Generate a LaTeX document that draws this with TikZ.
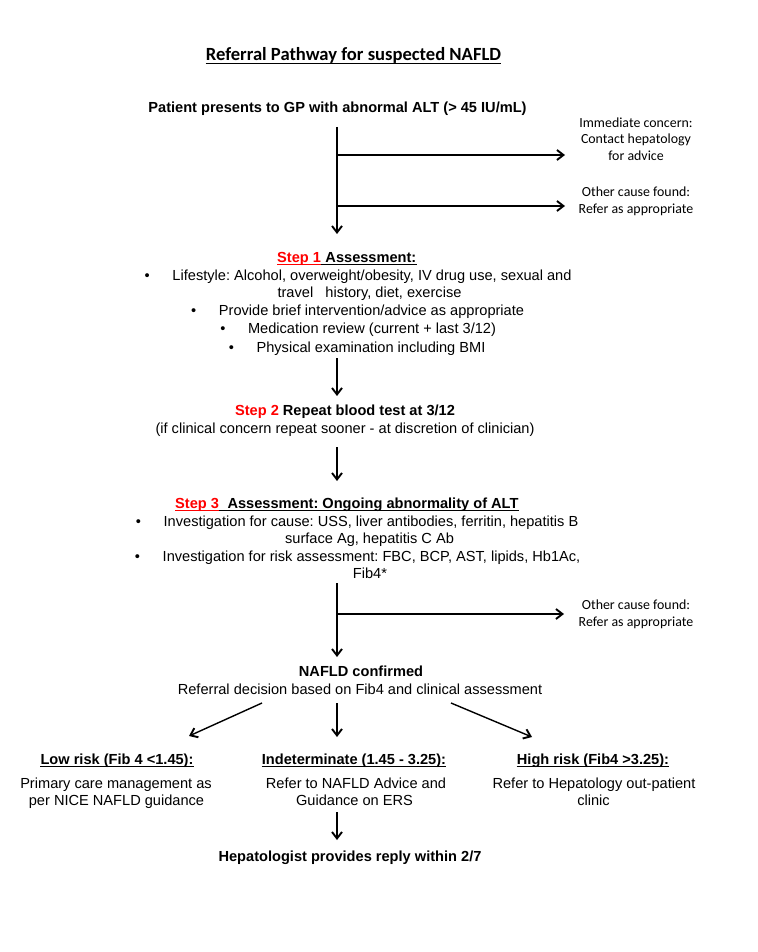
\documentclass[tikz,border=0pt]{standalone}
\usepackage{fontspec}
\setmainfont{Liberation Sans}
\newfontfamily\calib{Carlito}
\usetikzlibrary{arrows.meta}
\frenchspacing
\begin{document}
\begin{tikzpicture}[x=1pt,y=-1pt,
  txt/.style={inner sep=0pt, anchor=base, font=\fontsize{14.6}{17}\selectfont},
  btxt/.style={inner sep=0pt, anchor=base, font=\fontsize{14.6}{17}\selectfont\bfseries},
  note/.style={inner sep=0pt, anchor=base, font=\calib\fontsize{13.9}{17}\selectfont},
  titlefont/.style={inner sep=0pt, anchor=base, font=\calib\bfseries\fontsize{18.6}{22}\selectfont},
  conn/.style={line width=1.4pt, -{Straight Barb[length=6.5pt,width=10pt,line width=1.9pt]}},
  ul/.style={line width=1pt},
  bul/.style={inner sep=0pt, anchor=base, font=\fontsize{14.6}{17}\selectfont}]

\useasboundingbox[fill=white] (0,0) rectangle (757,952);

% title
\node[titlefont] (title) at (353.5,61) {Referral Pathway for suspected NAFLD};
\draw[ul] ([yshift=-2.5pt]title.base west) -- ([yshift=-2.5pt]title.base east);

% start
\node[btxt] (patient) at (337.5,113) {Patient presents to GP with abnormal ALT (> 45 IU/mL)};

% side notes top
\node[note] (n1a) at (636,127.5) {Immediate concern:};
\node[note] (n1b) at (636,144) {Contact hepatology};
\node[note] (n1c) at (636,160.5) {for advice};
\node[note] (n2a) at (636,196.5) {Other cause found:};
\node[note] (n2b) at (636,213.5) {Refer as appropriate};

\coordinate (v1s) at (337,127);
\coordinate (v1e) at (337,234);
\coordinate (j1) at (337,155);
\coordinate (j2) at (337,206);
\coordinate (a1) at (565,155);
\coordinate (a2) at (565,206);
\draw[conn] (v1s) -- (v1e);
\draw[conn] (j1) -- (a1);
\draw[conn] (j2) -- (a2);

% step 1
\node[btxt, text=red, anchor=base west] (s1a) at (277,262) {Step 1};
\node[btxt, anchor=base west] (s1b) at ([xshift=4.06pt]s1a.base east) {Assessment:};
\draw[ul, red] ([yshift=-2.5pt]s1a.base west) -- ([yshift=-2.5pt]s1a.base east);
\draw[ul] ([yshift=-2.5pt]s1a.base east) -- ([yshift=-2.5pt]s1b.base east);

\node[txt] (l1) at (372,280) {Lifestyle: Alcohol, overweight/obesity, IV drug use, sexual and};
\node[txt] (l2) at (369.5,297) {travel\ \ \ history, diet, exercise};
\node[txt] (l3) at (371.5,315) {Provide brief intervention/advice as appropriate};
\node[txt] (l4) at (372,333) {Medication review (current + last 3/12)};
\node[txt] (l5) at (371,352) {Physical examination including BMI};
\node[bul] (b1) at ([xshift=-25pt]l1.base west) {•};
\node[bul] (b3) at ([xshift=-25pt]l3.base west) {•};
\node[bul] (b4) at ([xshift=-25pt]l4.base west) {•};
\node[bul] (b5) at ([xshift=-25pt]l5.base west) {•};

\coordinate (v2s) at (337,358);
\coordinate (v2e) at (337,396);
\draw[conn] (v2s) -- (v2e);

% step 2
\node[btxt] (s2a) at (345,415) {\textcolor{red}{Step 2} Repeat blood test at 3/12};
\node[txt] (s2b) at (345,433) {(if clinical concern repeat sooner - at discretion of clinician)};

\coordinate (v3s) at (337,447);
\coordinate (v3e) at (337,481);
\draw[conn] (v3s) -- (v3e);

% step 3
\node[btxt, text=red, anchor=base west] (s3a) at (175,508) {Step 3};
\node[btxt, anchor=base west] (s3b) at ([xshift=8.12pt]s3a.base east) {Assessment: Ongoing abnormality of ALT};
\draw[ul, red] ([yshift=-2.5pt]s3a.base west) -- ([yshift=-2.5pt]s3a.base east);
\draw[ul] ([yshift=-2.5pt]s3a.base east) -- ([yshift=-2.5pt]s3b.base east);

\node[txt] (m1) at (371,526) {Investigation for cause: USS, liver antibodies, ferritin, hepatitis B};
\node[txt] (m2) at (369.5,543.5) {surface Ag, hepatitis C Ab};
\node[txt] (m3) at (371.5,561) {Investigation for risk assessment: FBC, BCP, AST, lipids, Hb1Ac,};
\node[txt] (m4) at (370,578) {Fib4*};
\node[bul] (c1) at ([xshift=-25pt]m1.base west) {•};
\node[bul] (c3) at ([xshift=-25pt]m3.base west) {•};

\coordinate (v4s) at (337,583);
\coordinate (v4e) at (337,657);
\coordinate (j3) at (337,614);
\coordinate (a3) at (564,614);
\draw[conn] (v4s) -- (v4e);
\draw[conn] (j3) -- (a3);
\node[note] (n3a) at (636,609.5) {Other cause found:};
\node[note] (n3b) at (636,626.5) {Refer as appropriate};

% NAFLD confirmed
\node[btxt] (naf) at (361,676) {NAFLD confirmed};
\node[txt] (refd) at (360,694) {Referral decision based on Fib4 and clinical assessment};

\coordinate (d1s) at (262,703);
\coordinate (d1e) at (189,736);
\coordinate (d2s) at (337,703);
\coordinate (d2e) at (337,737);
\coordinate (d3s) at (451,703);
\coordinate (d3e) at (532,737);
\draw[conn] (d1s) -- (d1e);
\draw[conn] (d2s) -- (d2e);
\draw[conn] (d3s) -- (d3e);

% outcomes
\node[btxt] (low) at (117,764) {Low risk (Fib 4 <1.45):};
\node[btxt] (ind) at (354,764) {Indeterminate (1.45 - 3.25):};
\node[btxt] (high) at (593,764) {High risk (Fib4 >3.25):};
\draw[ul] ([yshift=-2.5pt]low.base west) -- ([yshift=-2.5pt]low.base east);
\draw[ul] ([yshift=-2.5pt]ind.base west) -- ([yshift=-2.5pt]ind.base east);
\draw[ul] ([yshift=-2.5pt]high.base west) -- ([yshift=-2.5pt]high.base east);

\node[txt] (lowa) at (116,788) {Primary care management as};
\node[txt] (lowb) at (116.5,805) {per NICE NAFLD guidance};
\node[txt] (inda) at (356,788) {Refer to NAFLD Advice and};
\node[txt] (indb) at (354.5,805) {Guidance on ERS};
\node[txt] (higha) at (594,788) {Refer to Hepatology out-patient};
\node[txt] (highb) at (593.5,805) {clinic};

\coordinate (v5s) at (337,812);
\coordinate (v5e) at (337,840);
\draw[conn] (v5s) -- (v5e);
\node[btxt] (hep) at (350,861) {Hepatologist provides reply within 2/7};

\end{tikzpicture}
\end{document}
